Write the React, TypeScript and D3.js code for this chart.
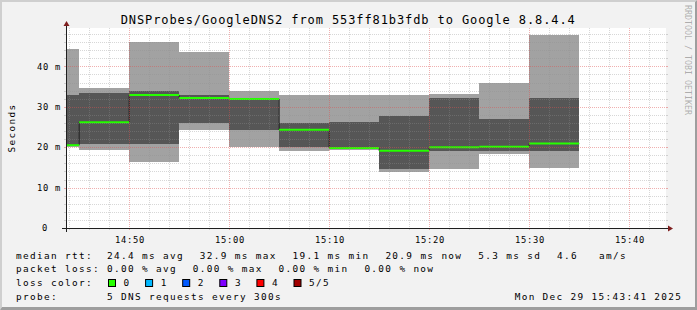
import React from "react";
import * as d3 from "d3";

const TITLE = "DNSProbes/GoogleDNS2 from 553ff81b3fdb to Google 8.8.4.4";
const START = "2025-12-29 14:43:41";
const END = "2025-12-29 15:43:41";
const stepEnds = ["14:45", "14:50", "14:55", "15:00", "15:05", "15:10", "15:15", "15:20", "15:25", "15:30", "15:35"];
const rttMin = [20.0, 19.3, 16.4, 24.3, 20.0, 19.1, 19.3, 13.9, 14.6, 18.3, 14.9];
const rttP2 = [20.2, 20.8, 20.8, 25.9, 24.3, 20.0, 19.5, 14.6, 19.1, 19.1, 19.1];
const rttMedian = [20.5, 26.2, 32.9, 32.2, 31.9, 24.3, 19.8, 19.1, 20.0, 20.1, 20.9];
const rttP4 = [32.9, 33.3, 34.0, 32.9, 32.1, 26.1, 26.3, 27.7, 32.1, 27.0, 32.2];
const rttMax = [44.3, 34.6, 46.1, 43.6, 34.0, 32.9, 32.9, 32.9, 33.2, 36.0, 47.8];
const lossAtStep = [0, 0, 0, 0, 0, 0, 0, 0, 0, 0, 0];

const yMax = 49.5;
const yMajor = [10, 20, 30, 40];
const yLabels = ["0", "10 m", "20 m", "30 m", "40 m"];
const yLabelValues = [0, 10, 20, 30, 40];
const xLabelFmt = "%H:%M";

const lossLabels = ["0", "1", "2", "3", "4", "5/5"];
const lossColors = ["#26ff00", "#00b8ff", "#0059ff", "#7e00ff", "#ff0000", "#a00000"];

const rttItems = ["24.4 ms avg", "32.9 ms max", "19.1 ms min", "20.9 ms now", "5.3 ms sd", "4.6   am/s"];
const lossItems = ["0.00 % avg", "0.00 % max", "0.00 % min", "0.00 % now"];
const probeText = "5 DNS requests every 300s";
const dateText = "Mon Dec 29 15:43:41 2025";
const watermark = "RRDTOOL / TOBI OETIKER";

const W = 697, H = 310;
const X0 = 66, X1 = 666, Y0 = 228, Y1 = 28;
const FONT = "'DejaVu Sans Mono', monospace";
const LEG = { fontSize: 9.4, letterSpacing: 1.34 };
const ADV = 7;
const AX = { fontSize: 8.8, letterSpacing: 0.7 };

export default function App() {
  const parse = d3.timeParse("%Y-%m-%d %H:%M:%S");
  const t0 = parse(START) as Date;
  const t1 = parse(END) as Date;
  const x = d3.scaleTime().domain([t0, t1]).range([X0, X1]);
  const y = d3.scaleLinear().domain([0, yMax]).range([Y0, Y1]);

  const segs = stepEnds.map((s, i) => {
    const e = parse(`2025-12-29 ${s}:00`) as Date;
    const st = d3.timeMinute.offset(e, -5);
    return { xs: Math.max(x(st), X0), xe: x(e), i };
  });

  const medPts: [number, number][] = [];
  segs.forEach((s) => {
    medPts.push([s.xs, y(rttMedian[s.i])]);
    medPts.push([s.xe, y(rttMedian[s.i])]);
  });
  const medLine = d3.line()(medPts) as string;

  const minorX = d3.timeMinute.every(2)!.range(t0, t1);
  const minorY = d3.range(2, yMax, 2).filter((v) => v % 10 !== 0);
  const px = (v: number) => Math.round(v) + 0.5;

  const gridMinor = "rgba(143,143,143,0.36)";
  const gridMajor = "rgba(222,79,79,0.45)";

  const fmt = d3.timeFormat(xLabelFmt);
  const rows = [258.7, 272.3, 285.9, 299.5];
  const legX = 16;
  const itemX0 = 107;
  const gap = 15.8;

  let acc = itemX0;
  const rttPos = rttItems.map((t) => { const p = acc; acc += t.length * ADV + gap; return p; });
  acc = itemX0;
  const lossPos = lossItems.map((t) => { const p = acc; acc += t.length * ADV + gap; return p; });

  // render text with preserved multiple spaces by splitting into words at char positions
  const monoText = (t: string, x0: number, yy: number, key: string) => {
    const parts: { s: string; c: number }[] = [];
    const re = /\S+/g;
    let m: RegExpExecArray | null;
    while ((m = re.exec(t))) parts.push({ s: m[0], c: m.index });
    return (
      <g key={key}>
        {parts.map((p, j) => (
          <text key={j} x={x0 + p.c * ADV} y={yy}>{p.s}</text>
        ))}
      </g>
    );
  };

  return (
    <svg width={W} height={H} style={{ position: "absolute", left: 0, top: 0 }} fontFamily={FONT}>
      <rect x={0} y={0} width={W} height={H} fill="#f2f2f2" />
      <polygon points={`0,0 ${W},0 ${W - 2},2 2,2 2,${H - 3} 0,${H}`} fill="#cfcfcf" />
      <polygon points={`0,${H} ${W},${H} ${W},0 ${W - 2},2 ${W - 2},${H - 3} 2,${H - 3}`} fill="#9e9e9e" />
      <rect x={X0} y={Y1} width={X1 - X0} height={Y0 - Y1} fill="#ffffff" />

      {/* smoke */}
      <g shapeRendering="crispEdges">
        {segs.map((s) => (
          <rect key={"l" + s.i} x={s.xs} width={s.xe - s.xs} y={y(rttMax[s.i])} height={y(rttMin[s.i]) - y(rttMax[s.i])} fill="#a2a2a2" />
        ))}
        {segs.map((s) => (
          <rect key={"d" + s.i} x={s.xs} width={s.xe - s.xs} y={y(rttP4[s.i])} height={y(rttP2[s.i]) - y(rttP4[s.i])} fill="#565656" />
        ))}
      </g>

      {/* median */}
      <path d={medLine} fill="none" stroke="#202020" strokeWidth={1} />
      {segs.map((s) => (
        <line key={"m" + s.i} x1={s.xs} x2={s.xe} y1={y(rttMedian[s.i])} y2={y(rttMedian[s.i])} stroke={lossColors[lossAtStep[s.i]]} strokeWidth={2} />
      ))}

      {/* grid */}
      <g strokeDasharray="1,1" fill="none">
        {minorY.map((v) => (
          <line key={"gy" + v} x1={X0} x2={X1} y1={px(y(v))} y2={px(y(v))} stroke={gridMinor} />
        ))}
        {minorX.filter((d) => d.getMinutes() % 10 !== 0).map((d) => (
          <line key={"gx" + +d} y1={Y1} y2={Y0} x1={px(x(d))} x2={px(x(d))} stroke={gridMinor} />
        ))}
        {yMajor.map((v) => (
          <line key={"My" + v} x1={X0} x2={X1} y1={px(y(v))} y2={px(y(v))} stroke={gridMajor} />
        ))}
        {minorX.filter((d) => d.getMinutes() % 10 === 0).map((d) => (
          <line key={"Mx" + +d} y1={Y1} y2={Y0} x1={px(x(d))} x2={px(x(d))} stroke={gridMajor} />
        ))}
      </g>
      {/* ticks */}
      <g>
        {minorY.map((v) => (
          <g key={"ty" + v} stroke={gridMinor}>
            <line x1={X0 - 2} x2={X0} y1={px(y(v))} y2={px(y(v))} />
            <line x1={X1} x2={X1 + 2} y1={px(y(v))} y2={px(y(v))} />
          </g>
        ))}
        {yMajor.map((v) => (
          <g key={"tY" + v} stroke={gridMajor}>
            <line x1={X0 - 2} x2={X0} y1={px(y(v))} y2={px(y(v))} />
            <line x1={X1} x2={X1 + 2} y1={px(y(v))} y2={px(y(v))} />
          </g>
        ))}
        {minorX.map((d) => (
          <line key={"tx" + +d} x1={px(x(d))} x2={px(x(d))} y1={Y0} y2={Y0 + 2} stroke={d.getMinutes() % 10 === 0 ? gridMajor : gridMinor} />
        ))}
      </g>

      {/* axes */}
      <line x1={X0 - 4} x2={X1 + 4} y1={Y0 + 0.5} y2={Y0 + 0.5} stroke="#1f1f1f" />
      <line x1={X0 + 0.5} x2={X0 + 0.5} y1={Y0 + 4} y2={Y1 - 4} stroke="#1f1f1f" />
      <polygon points={`${X1 + 2},${Y0 - 2.5} ${X1 + 2},${Y0 + 3.5} ${X1 + 7},${Y0 + 0.5}`} fill="#7f1f1f" />
      <polygon points={`${X0 - 2.5},${Y1 - 2} ${X0 + 3.5},${Y1 - 2} ${X0 + 0.5},${Y1 - 7}`} fill="#7f1f1f" />

      {/* axis labels */}
      <g fontSize={AX.fontSize} letterSpacing={AX.letterSpacing} fill="#000">
        {yLabelValues.map((v, i) => (
          <text key={"yl" + v} x={v === 0 ? 48 : 61} y={y(v) + 3.3} textAnchor="end">{yLabels[i]}</text>
        ))}
        {minorX.filter((d) => d.getMinutes() % 10 === 0).map((d) => (
          <text key={"xl" + +d} x={x(d) + 0.8} y={243.3} textAnchor="middle">{fmt(d)}</text>
        ))}
      </g>

      {/* title */}
      <text x={348.2} y={24} textAnchor="middle" fontSize={12} letterSpacing={0.9} fill="#000">{TITLE}</text>

      {/* y axis title */}
      <text transform="translate(15,128) rotate(-90)" textAnchor="middle" fontSize={LEG.fontSize} letterSpacing={LEG.letterSpacing} fill="#000">Seconds</text>

      {/* watermark */}
      <text transform="translate(684.5,5) rotate(90)" fontSize={8.3} fill="rgba(0,0,0,0.3)">{watermark}</text>

      {/* legend */}
      <g fontSize={LEG.fontSize} letterSpacing={LEG.letterSpacing} fill="#000">
        {monoText("median rtt:", legX, rows[0], "h0")}
        {rttItems.map((t, i) => monoText(t, rttPos[i], rows[0], "r" + i))}
        {monoText("packet loss:", legX, rows[1], "h1")}
        {lossItems.map((t, i) => monoText(t, lossPos[i], rows[1], "p" + i))}
        {monoText("loss color:", legX, rows[2], "h2")}
        {lossLabels.map((t, i) => (
          <g key={"lc" + i}>
            <rect x={108.5 + i * 37.1} y={279.5} width={7} height={7} fill={lossColors[i]} stroke="#000" strokeWidth={1} />
            <text x={123.6 + i * 37.1} y={rows[2]}>{t}</text>
          </g>
        ))}
        {monoText("probe:", legX, rows[3], "h3")}
        {monoText(probeText, itemX0, rows[3], "pr")}
        <text x={682.3} y={rows[3]} textAnchor="end">{dateText}</text>
      </g>
    </svg>
  );
}
